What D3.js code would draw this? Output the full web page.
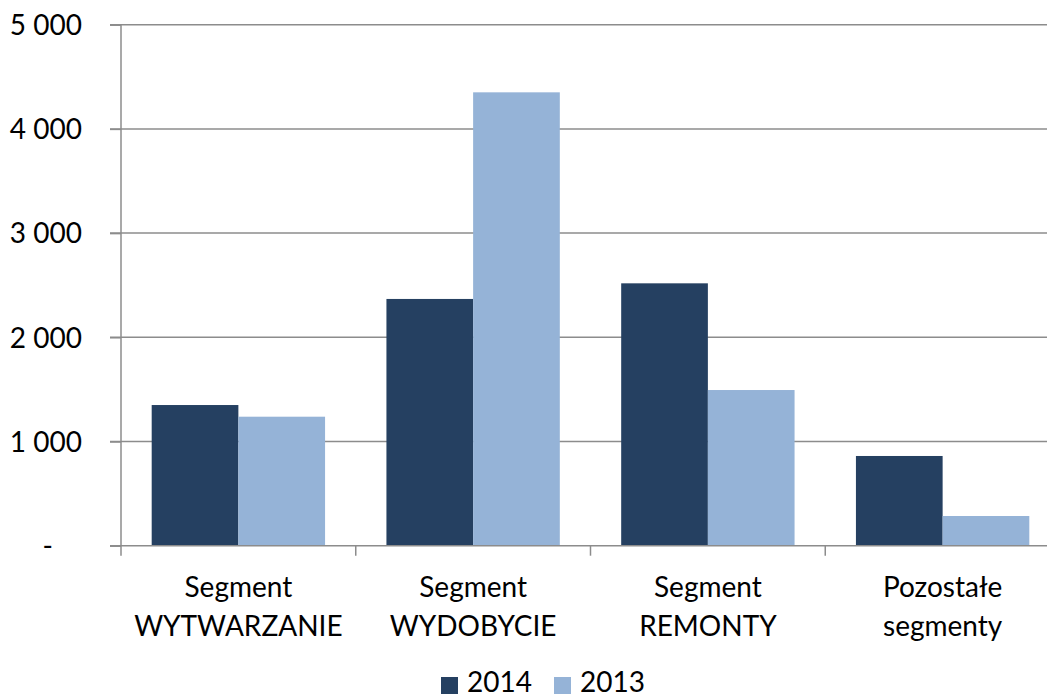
<!DOCTYPE html>
<html>
<head>
<meta charset="utf-8">
<script src="https://cdn.jsdelivr.net/npm/d3@7"></script>
<style>
  body { margin: 0; background: #fff; }
  svg { display: block; font-family: Lato, "Open Sans", sans-serif; }
</style>
</head>
<body>
<div id="canvas"></div>
<script>
const categories = [["Segment", "WYTWARZANIE"], ["Segment", "WYDOBYCIE"], ["Segment", "REMONTY"], ["Pozostałe", "segmenty"]];
const seriesNames = ["2014", "2013"];
const values2014 = [1350, 2368, 2518, 861];
const values2013 = [1238, 4351, 1494, 285];
const yTicks = [0, 1000, 2000, 3000, 4000, 5000];
const colors = { "2014": "#254061", "2013": "#95b3d7" };

const width = 1047, height = 695;
const svg = d3.select("#canvas").append("svg")
    .attr("width", width).attr("height", height);

const keys = categories.map((c, i) => i);
const x0 = d3.scaleBand().domain(keys).range([121, 1060]).padding(0);
const x1 = d3.scaleBand().domain(seriesNames).range([0, x0.bandwidth()])
    .paddingInner(0).paddingOuter(0.354);
const y = d3.scaleLinear().domain([0, 5000]).range([545.7, 24.7]);

const fmt = v => v === 0 ? "-" : d3.format(",")(v).replace(",", " ");

// gridlines
svg.append("g").selectAll("line").data(yTicks.filter(t => t > 0)).enter().append("line")
    .attr("x1", 110).attr("x2", width)
    .attr("y1", d => y(d)).attr("y2", d => y(d))
    .attr("stroke", "#8c8c8c").attr("stroke-width", 1.5);

// bars
const rows = keys.map(i => ({ i, vals: [values2014[i], values2013[i]] }));
const grp = svg.append("g").selectAll("g").data(rows).enter().append("g")
    .attr("transform", d => `translate(${x0(d.i)},0)`);
grp.selectAll("rect").data(d => seriesNames.map((s, j) => ({ s, v: d.vals[j] }))).enter().append("rect")
    .attr("x", d => x1(d.s))
    .attr("y", d => y(d.v))
    .attr("width", x1.bandwidth())
    .attr("height", d => y(0) - y(d.v))
    .attr("fill", d => colors[d.s]);

// y axis
const yAxis = svg.append("g").attr("transform", "translate(121,0)")
    .call(d3.axisLeft(y).tickValues(yTicks).tickSize(11).tickFormat(fmt));
yAxis.select(".domain").remove();
yAxis.append("line").attr("x1", 0).attr("x2", 0).attr("y1", y(5000)).attr("y2", y(0))
    .attr("stroke", "#8c8c8c").attr("stroke-width", 1.5);
yAxis.selectAll(".tick line").attr("stroke", "#8c8c8c").attr("stroke-width", 1.5);
yAxis.selectAll(".tick text")
    .attr("x", -39).attr("dy", "0.35em")
    .attr("fill", "#000").style("font-size", "28px").style("font-family", "Lato, 'Open Sans', sans-serif");
yAxis.selectAll(".tick").filter(d => d === 0).select("text").attr("x", -68);

// x axis
const xAxis = svg.append("g").attr("transform", `translate(0,${y(0)})`);
xAxis.append("line").attr("x1", 110).attr("x2", width).attr("y1", 0).attr("y2", 0)
    .attr("stroke", "#8c8c8c").attr("stroke-width", 1.5);
xAxis.selectAll(".xt").data(keys.concat([4])).enter().append("line")
    .attr("x1", d => d < 4 ? x0(d) : x0(3) + x0.bandwidth())
    .attr("x2", d => d < 4 ? x0(d) : x0(3) + x0.bandwidth())
    .attr("y1", 0).attr("y2", 10)
    .attr("stroke", "#8c8c8c").attr("stroke-width", 1.5);
const lbl = xAxis.selectAll(".xl").data(keys).enter().append("text")
    .attr("text-anchor", "middle")
    .attr("transform", d => `translate(${x0(d) + x0.bandwidth() / 2},0)`)
    .style("font-size", "28px").attr("fill", "#000");
lbl.append("tspan").attr("x", 0).attr("y", 51).text(d => categories[d][0]);
lbl.append("tspan").attr("x", 0).attr("y", 90).text(d => categories[d][1]);

// legend
const legend = svg.append("g");
const legX = [441, 554];
seriesNames.forEach((s, i) => {
    legend.append("rect").attr("x", legX[i]).attr("y", 677).attr("width", 17).attr("height", 17)
        .attr("fill", colors[s]);
    legend.append("text").attr("x", legX[i] + 26).attr("y", 692)
        .style("font-size", "28px").attr("fill", "#000").text(s);
});
</script>
</body>
</html>
